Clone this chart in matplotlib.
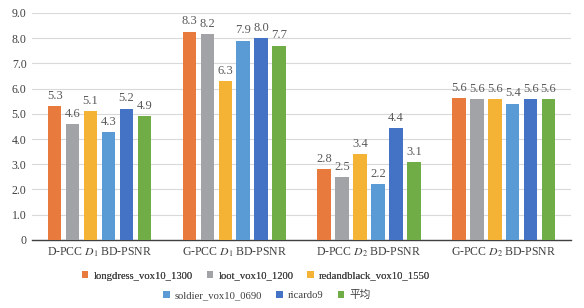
import matplotlib
matplotlib.use("Agg")
import matplotlib.pyplot as plt
import numpy as np

plt.rcParams['font.family'] = ['Liberation Serif', 'Noto Sans CJK SC']
plt.rcParams['mathtext.fontset'] = 'stix'

categories = [r"D-PCC $\mathit{D}_1$ BD-PSNR", r"G-PCC $\mathit{D}_1$ BD-PSNR",
              r"D-PCC $\mathit{D}_2$ BD-PSNR", r"G-PCC $\mathit{D}_2$ BD-PSNR"]
series_names = ["longdress_vox10_1300", "loot_vox10_1200", "redandblack_vox10_1550",
                "soldier_vox10_0690", "ricardo9", "平均"]
longdress = [5.3, 8.26, 2.8, 5.63]
loot = [4.6, 8.15, 2.5, 5.57]
redandblack = [5.1, 6.3, 3.4, 5.59]
soldier = [4.26, 7.9, 2.22, 5.4]
ricardo9 = [5.2, 8.0, 4.44, 5.59]
average = [4.9, 7.7, 3.08, 5.57]
values = [longdress, loot, redandblack, soldier, ricardo9, average]
colors = ["#E97A3E", "#A2A3A6", "#F5B335", "#5B9BD5", "#4472C4", "#70AD47"]
yticks = [0, 1, 2, 3, 4, 5, 6, 7, 8, 9]
ytick_labels = ["0", "1.0", "2.0", "3.0", "4.0", "5.0", "6.0", "7.0", "8.0", "9.0"]

fig = plt.figure(figsize=(5.84, 3.08), dpi=100)
ax = fig.add_axes([0.055, 0.221, 0.923, 0.737])

x = np.arange(len(categories))
width = 0.1
pitch = 0.133
handles = []
for i, (vals, c) in enumerate(zip(values, colors)):
    pos = x + (i - 2.5) * pitch
    b = ax.bar(pos, vals, width=width, color=c, zorder=3, label=series_names[i])
    handles.append(b)
    for p, v in zip(pos, vals):
        ax.text(p, v + 0.17, f"{v:.1f}", ha='center', va='bottom', fontsize=9, color='#595959')

ax.set_xlim(-0.5, 3.5)
ax.set_ylim(0, 9)
ax.set_yticks(yticks)
ax.set_yticklabels(ytick_labels, fontsize=8.5, color='#404040')
ax.set_xticks(x)
ax.set_xticklabels(categories, fontsize=8.5, color='#404040')
ax.tick_params(axis='both', length=0, pad=4)
ax.yaxis.grid(True, color='#D9D9D9', linewidth=0.8, zorder=0)
for s in ['top', 'right', 'left']:
    ax.spines[s].set_visible(False)
ax.spines['bottom'].set_color('#404040')
ax.spines['bottom'].set_linewidth(1.0)

leg_kw = dict(loc='center', ncol=3, frameon=False, fontsize=7.7, handlelength=0.6,
              handleheight=0.6, columnspacing=1.3, handletextpad=0.5)
leg1 = fig.legend(handles[:3], series_names[:3], bbox_to_anchor=(256/584, 1 - 276/308), **leg_kw)
leg2 = fig.legend(handles[3:], series_names[3:], bbox_to_anchor=(267/584, 1 - 295/308), **leg_kw)
for leg in (leg1, leg2):
    for t in leg.get_texts():
        t.set_color('#404040')
fig.add_artist(leg1)

fig.savefig("out.png", dpi=100)
